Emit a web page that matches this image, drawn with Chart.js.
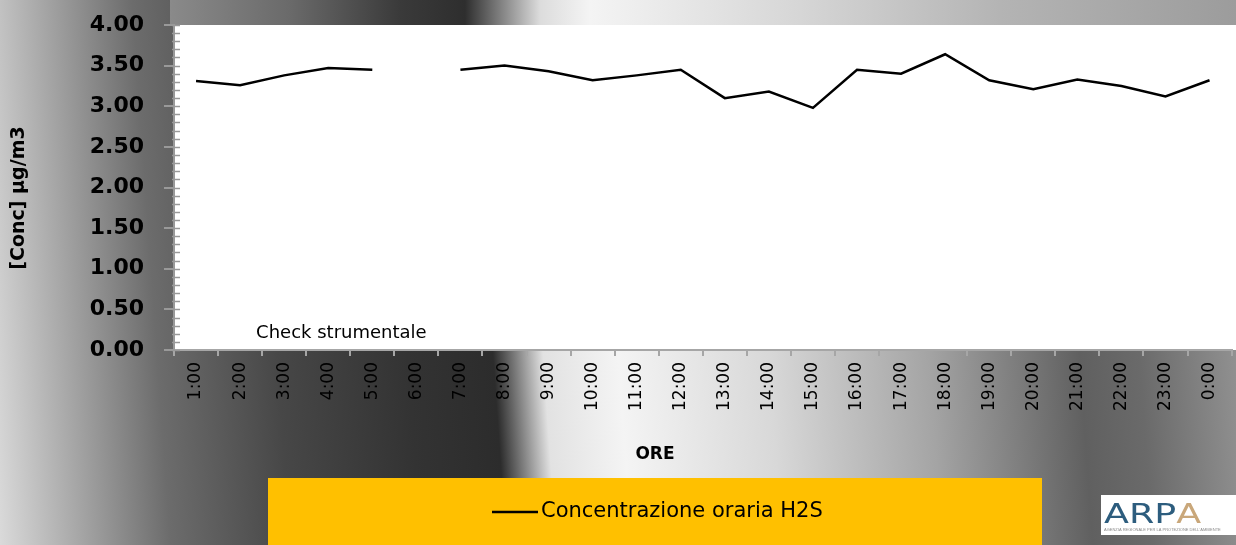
<!DOCTYPE html>
<html lang="it">
<head>
  <meta charset="UTF-8" />
  <script src="https://cdn.jsdelivr.net/npm/chart.js"></script>
  <title>Concentrazione oraria H2S</title>
  <style>
    html, body {
      margin: 0;
      padding: 0;
      width: 1236px;
      height: 545px;
      overflow: hidden;
    }
    body {
      background:
        linear-gradient(90deg, #8a8a8a 0px, #6a6a6a 120px, #3a3a3a 230px, #2e2e2e 295px, #dcdcdc 370px, #f4f4f4 420px, #d6d6d6 630px, #b4b4b4 830px, #9c9c9c 1066px) 170px 0 / 1066px 25px no-repeat,
        linear-gradient(86deg, #dadada 0px, #6c6c6c 170px, #474747 290px, #333333 420px, #2c2c2c 505px, #e2e2e2 555px, #f4f4f4 630px, #d8d8d8 780px, #a4a4a4 940px, #606060 1090px, #6a6a6a 1150px, #9a9a9a 1271px);
    }
    .wrap {
      position: relative;
      width: 1236px;
      height: 545px;
    }
  </style>
</head>
<body>
  <div class="wrap">
    <canvas id="chart" width="1236" height="545"></canvas>
  </div>

  <script>
    const ore = ['1:00', '2:00', '3:00', '4:00', '5:00', '6:00', '7:00', '8:00', '9:00', '10:00', '11:00', '12:00',
                 '13:00', '14:00', '15:00', '16:00', '17:00', '18:00', '19:00', '20:00', '21:00', '22:00', '23:00', '0:00'];
    // 6:00 manca: check strumentale
    const concH2S = [3.31, 3.26, 3.38, 3.47, 3.45, null, 3.45, 3.50, 3.43, 3.32, 3.38, 3.45,
                     3.10, 3.18, 2.98, 3.45, 3.40, 3.64, 3.32, 3.21, 3.33, 3.25, 3.12, 3.32];
    const serieLabel = 'Concentrazione oraria H2S';
    const notaCheck = 'Check strumentale';
    const titoloX = 'ORE';
    const titoloY = '[Conc] µg/m3';
    const yMin = 0, yMax = 4, yStep = 0.5, yMinorStep = 0.1;

    const fontMain = "'DejaVu Sans', sans-serif";

    // sfondo bianco area grafico, tacche minori, titoli, legenda e logo
    const extras = {
      id: 'extras',
      beforeDraw(chart) {
        const { ctx, chartArea } = chart;
        ctx.save();
        ctx.fillStyle = '#ffffff';
        ctx.fillRect(chartArea.left, chartArea.top, chart.width - chartArea.left, chartArea.bottom - chartArea.top);
        ctx.restore();
      },
      afterDraw(chart) {
        const { ctx, chartArea } = chart;
        const y = chart.scales.y;
        const x = chart.scales.x;
        ctx.save();
        ctx.strokeStyle = '#999999';
        ctx.lineWidth = 1.5;
        const n = Math.round((yMax - yMin) / yMinorStep);
        for (let i = 0; i <= n; i++) {
          const py = Math.round(y.getPixelForValue(yMin + i * yMinorStep)) + 0.5;
          ctx.beginPath();
          ctx.moveTo(chartArea.left - 2, py);
          ctx.lineTo(chartArea.left + 6, py);
          ctx.stroke();
        }

        // nota
        ctx.fillStyle = '#000000';
        ctx.font = "18px " + fontMain;
        ctx.textAlign = 'left';
        ctx.textBaseline = 'middle';
        ctx.fillText(notaCheck, x.getPixelForValue(1) + 16, y.getPixelForValue(0) - 17);

        // titoli assi
        ctx.font = "bold 17px " + fontMain;
        ctx.textAlign = 'center';
        ctx.fillText(titoloX, 655, 455);
        ctx.save();
        ctx.translate(19, 198);
        ctx.rotate(-Math.PI / 2);
        ctx.font = "bold 19px " + fontMain;
        ctx.fillText(titoloY, 0, 0);
        ctx.restore();

        // legenda
        const lx = 268, ly = 478;
        ctx.fillStyle = '#ffc000';
        ctx.fillRect(lx, ly, 1042 - lx, chart.height - ly);
        ctx.strokeStyle = '#000000';
        ctx.lineWidth = 2.5;
        ctx.beginPath();
        ctx.moveTo(492, 512);
        ctx.lineTo(538, 512);
        ctx.stroke();
        ctx.fillStyle = '#000000';
        ctx.textAlign = 'left';
        ctx.font = "21px " + fontMain;
        ctx.fillText(serieLabel, 541, 512);

        // logo ARPA
        ctx.fillStyle = '#ffffff';
        ctx.fillRect(1101, 495, chart.width - 1101, 40);
        ctx.save();
        ctx.translate(1104, 523);
        ctx.scale(1.35, 1);
        ctx.font = "27px " + fontMain;
        ctx.textBaseline = 'alphabetic';
        ctx.fillStyle = '#2d5d7e';
        ctx.fillText('ARP', 0, 0);
        const w = ctx.measureText('ARP').width;
        ctx.fillStyle = '#c9a77a';
        ctx.fillText('A', w, 0);
        ctx.restore();
        ctx.fillStyle = '#8a8a8a';
        ctx.font = "4px sans-serif";
        ctx.fillText('AGENZIA REGIONALE PER LA PROTEZIONE DELL\'AMBIENTE', 1104, 530);
        ctx.restore();
      }
    };

    new Chart(document.getElementById('chart'), {
      type: 'line',
      data: {
        labels: ore,
        datasets: [{
          label: serieLabel,
          data: concH2S,
          borderColor: '#000000',
          borderWidth: 2.5,
          pointRadius: 0,
          tension: 0,
          spanGaps: false
        }]
      },
      options: {
        responsive: false,
        animation: false,
        layout: { padding: { top: 25, right: 3, bottom: 79, left: 8 } },
        plugins: {
          legend: { display: false },
          tooltip: { enabled: false }
        },
        scales: {
          x: {
            offset: true,
            afterFit(scale) { scale.height = 116; },
            grid: {
              offset: true,
              drawOnChartArea: false,
              drawTicks: true,
              tickLength: 6,
              color: '#a6a6a6',
              lineWidth: 2
            },
            border: { color: '#a6a6a6', width: 2 },
            ticks: {
              autoSkip: false,
              maxRotation: 90,
              minRotation: 90,
              padding: 6,
              color: '#000000',
              font: { family: fontMain, size: 17 }
            }
          },
          y: {
            min: yMin,
            max: yMax,
            afterFit(scale) {
              scale.width = 166;
              scale.paddingTop = 0;
              scale.paddingBottom = 0;
            },
            grid: {
              drawOnChartArea: false,
              drawTicks: true,
              tickLength: 10,
              color: '#999999',
              lineWidth: 2
            },
            border: { color: '#999999', width: 2 },
            ticks: {
              stepSize: yStep,
              padding: 20,
              color: '#000000',
              font: { family: fontMain, size: 22, weight: 'bold' },
              callback: v => Number(v).toFixed(2)
            }
          }
        }
      },
      plugins: [extras]
    });
  </script>
</body>
</html>
